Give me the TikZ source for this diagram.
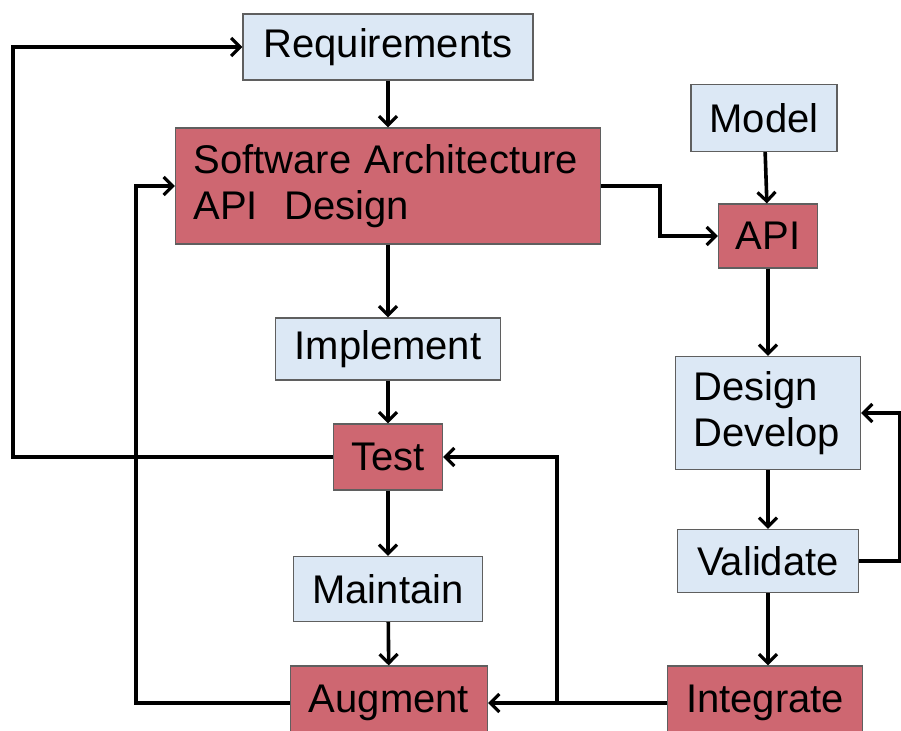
\documentclass[tikz,border=0pt]{standalone}
\usepackage{fontspec}
\setmainfont{Liberation Sans}
\usetikzlibrary{arrows.meta}

\definecolor{stepblue}{RGB}{220,232,245}
\definecolor{stepred}{RGB}{206,103,113}
\definecolor{stepedge}{RGB}{95,95,95}

\begin{document}
\begin{tikzpicture}
\tikzset{
bluebox/.style={rectangle,draw=stepedge,fill=stepblue,line width=0.6pt,inner sep=0pt,align=center,
font=\fontsize{20pt}{23pt}\selectfont},
redbox/.style={bluebox,fill=stepred},
leftbox/.style={inner xsep=9pt,align=left},
myarrow/.style={->, >={Straight Barb[length=4.5pt,width=9pt,line width=1.6pt]}, line width=1.8pt},
}
\useasboundingbox (0,0) rectangle (450.5pt,-365.5pt);

% left column
\node [bluebox, minimum width=145pt, minimum height=33pt] (req) at (194pt,-23.5pt) {Requirements};
\node [redbox, leftbox, text width=194.5pt, minimum height=58pt, below of=req, node distance=69.5pt] (arch)
  {Software Architecture\\API\ \ Design};
\node [bluebox, minimum width=112.5pt, minimum height=31pt, below of=arch, node distance=81.5pt] (impl) {Implement};
\node [redbox, minimum width=54.5pt, minimum height=33pt, below of=impl, node distance=54pt] (test) {Test};
\node [bluebox, minimum width=94.5pt, minimum height=32.5pt, below of=test, node distance=66pt] (maint) {Maintain};
\node [redbox, minimum width=98.5pt, minimum height=37pt, below of=maint, node distance=57pt, xshift=0.5pt] (aug) {Augment};

% right column
\node [bluebox, minimum width=73pt, minimum height=33.5pt, right of=req, node distance=188pt, yshift=-35.5pt] (model) {Model};
\node [redbox, minimum width=49.5pt, minimum height=32pt, below of=model, node distance=59pt, xshift=2pt] (api) {API};
\node [bluebox, leftbox, text width=74.5pt, minimum height=56.5pt, below of=api, node distance=88.5pt] (dd)
  {Design\\Develop};
\node [bluebox, minimum width=90.5pt, minimum height=31.5pt, below of=dd, node distance=74pt] (val) {Validate};
\node [redbox, minimum width=97.5pt, minimum height=37pt, below of=val, node distance=71pt, xshift=-1.5pt] (integ) {Integrate};

% straight steps
\draw[myarrow] (req) -- (arch);
\draw[myarrow] (arch) -- (impl);
\draw[myarrow] (impl) -- (test);
\draw[myarrow] (test) -- (maint);
\draw[myarrow] (maint) -- (aug);
\draw[myarrow] (model) -- (api);
\draw[myarrow] (api) -- (dd);
\draw[myarrow] (dd) -- (val);
\draw[myarrow] (val) -- (val |- integ.north);
\draw[myarrow] (integ) -- (aug);

% loops back
\draw[myarrow] (test.west) -- ++(-160pt,0) |- (req.west);
\draw[myarrow] (aug.west) -- ++(-77pt,0) |- (arch.west);
\draw[myarrow] (arch.east) -- ++(29.5pt,0) |- (api.west);
\draw[myarrow] (val.east) -- ++(20.5pt,0) |- (dd.east);
\draw[myarrow] (integ.west) -- ++(-55pt,0) |- (test.east);
\end{tikzpicture}
\end{document}
